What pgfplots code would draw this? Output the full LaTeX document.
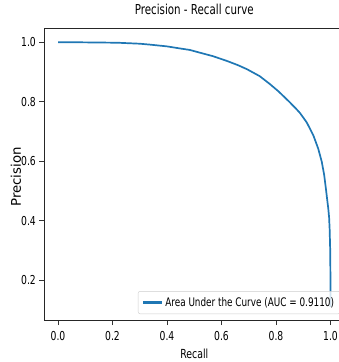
\documentclass[border=0pt]{standalone}
\usepackage{fontspec}
\setmainfont{DejaVu Sans}[FakeStretch=0.75]
\newfontfamily\ylfont{DejaVu Sans}
\usepackage{pgfplots}
\pgfplotsset{compat=1.18}
\definecolor{mplblue}{HTML}{1F77B4}
\begin{document}
\begin{tikzpicture}
\begin{axis}[
  at={(0,0)}, anchor=south west,
  scale only axis, width=299.7pt, height=291pt,
  xmin=-0.05, xmax=1.05, ymin=0.0655, ymax=1.0445,
  xtick={0,0.2,0.4,0.6,0.8,1.0},
  ytick={0.2,0.4,0.6,0.8,1.0},
  /pgf/number format/assume math mode=true,
  /pgf/number format/fixed, /pgf/number format/fixed zerofill,
  /pgf/number format/precision=1,
  tick label style={font=\fontsize{12.3}{14}\selectfont},
  xticklabel style={yshift=-2.5pt},
  tick align=outside, tick pos=left, major tick length=5pt,
  every tick/.style={black!80, line width=0.9pt},
  axis line style={black!85, line width=1pt},
  title={Precision - Recall curve},
  title style={font=\fontsize{13.7}{16}\selectfont, at={(0.5,1)}, anchor=base, yshift=8pt, inner sep=0pt},
  xlabel={Recall},
  xlabel style={font=\fontsize{12.5}{14}\selectfont, at={(0.5,0)}, anchor=base, yshift=-38pt, inner sep=0pt},
  ylabel={Precision},
  ylabel style={font=\ylfont\fontsize{13.3}{15}\selectfont, at={(0,0.5)}, anchor=center, yshift=28.4pt, xshift=-2.5pt, inner sep=0pt},
  legend style={at={(0.987,0.0206)}, anchor=south east,
    font=\fontsize{11.8}{13}\selectfont, draw=black!20, rounded corners=2pt,
    fill=white, fill opacity=0.8, text opacity=1, inner xsep=4pt, inner ysep=4pt},
  legend cell align=left,
  legend image code/.code={\draw[draw=mplblue, draw opacity=1, line width=2.2pt] (0pt,0pt) -- (19pt,0pt);},
]
\addplot[mplblue, line width=1.7pt, line join=round] coordinates {
(0.0,1.0) (0.05,1.0) (0.1,0.9995) (0.15,0.999) (0.2,0.9985) (0.226,0.998)
(0.3,0.995) (0.337,0.992) (0.4,0.986) (0.448,0.979) (0.484,0.974)
(0.52,0.965) (0.569,0.953) (0.62,0.937) (0.66,0.923) (0.694,0.909) (0.74,0.886)
(0.778,0.859) (0.81,0.834) (0.845,0.803) (0.87,0.78) (0.888,0.762)
(0.913,0.73) (0.937,0.687) (0.955,0.642) (0.968,0.598) (0.977,0.553)
(0.983,0.509) (0.988,0.47) (0.992,0.44) (0.995,0.41) (0.997,0.37)
(0.999,0.3) (1.0,0.2) (1.0,0.11)
};
\addlegendentry{Area Under the Curve (AUC = 0.9110)}
\end{axis}
\pgfresetboundingbox
\path[use as bounding box] (-44.4pt,-42pt) rectangle (293.6pt,320pt);
\end{tikzpicture}
\end{document}
